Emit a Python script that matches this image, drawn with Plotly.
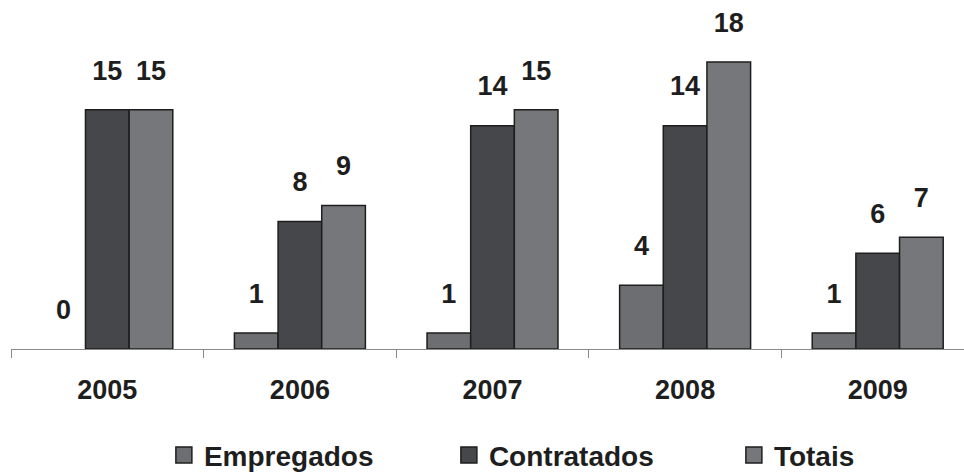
import plotly.graph_objects as go

years = ["2005", "2006", "2007", "2008", "2009"]
empregados = [0, 1, 1, 4, 1]
contratados = [15, 8, 14, 14, 6]
totais = [15, 9, 15, 18, 7]

series = [
    ("Empregados", empregados, "#6d6e72"),
    ("Contratados", contratados, "#46474a"),
    ("Totais", totais, "#76777b"),
]

FONT = "Liberation Sans, Arial, sans-serif"
INK = "#1e1e1e"

fig = go.Figure()
for name, vals, color in series:
    fig.add_trace(go.Bar(
        name=name, x=years, y=vals, legendgroup=name, showlegend=False,
        offsetgroup=name, alignmentgroup="years",
        marker=dict(color=color,
                    line=dict(color=INK, width=[0 if v == 0 else 1.5 for v in vals])),
        hoverinfo="x+y",
    ))

# value labels: grouped text-only scatter traces, lifted above each bar
# by an invisible marker
for name, vals, color in series:
    fig.add_trace(go.Scatter(
        x=years, y=vals, mode="markers+text", text=[str(v) for v in vals],
        textposition="top center",
        textfont=dict(family=FONT, size=27, color=INK, weight="bold"),
        marker=dict(size=36, opacity=0),
        offsetgroup=name, alignmentgroup="labels",
        showlegend=False, hoverinfo="skip", cliponaxis=False,
    ))

# legend keys: larger outlined squares than the default bar swatch
for name, vals, color in series:
    fig.add_trace(go.Scatter(
        x=[None], y=[None], mode="markers", name=name, legendgroup=name,
        offsetgroup=name, alignmentgroup="labels",
        marker=dict(symbol="square", size=16, color=color,
                    line=dict(color=INK, width=1.5)),
    ))

fig.update_layout(
    template="none",
    width=964, height=475,
    margin=dict(l=11, r=0, t=30, b=126, autoexpand=False),
    paper_bgcolor="white", plot_bgcolor="white",
    barmode="group", bargap=0.32, bargroupgap=0,
    scattermode="group", scattergap=0.32,
    font=dict(family=FONT, size=27, color=INK),
    showlegend=True,
    legend=dict(
        orientation="h", x=0.170, xanchor="left", xref="container",
        y=-0.333, yanchor="middle",
        font=dict(family=FONT, size=28, color=INK, weight="bold"),
        entrywidth=240, entrywidthmode="pixels", traceorder="normal",
        bgcolor="rgba(0,0,0,0)",
    ),
)
fig.update_xaxes(
    type="category", range=[-0.5, 4.448],
    showline=True, linecolor="#8a8a8a", linewidth=1,
    ticks="outside", tickson="boundaries", ticklen=8, tickcolor="#8a8a8a",
    tickfont=dict(family=FONT, size=27, color=INK, weight="bold"),
    ticklabelstandoff=17, showgrid=False, zeroline=False, automargin=False,
)
fig.update_yaxes(range=[0, 20], visible=False, showgrid=False, automargin=False)

fig.write_html("out.html")
